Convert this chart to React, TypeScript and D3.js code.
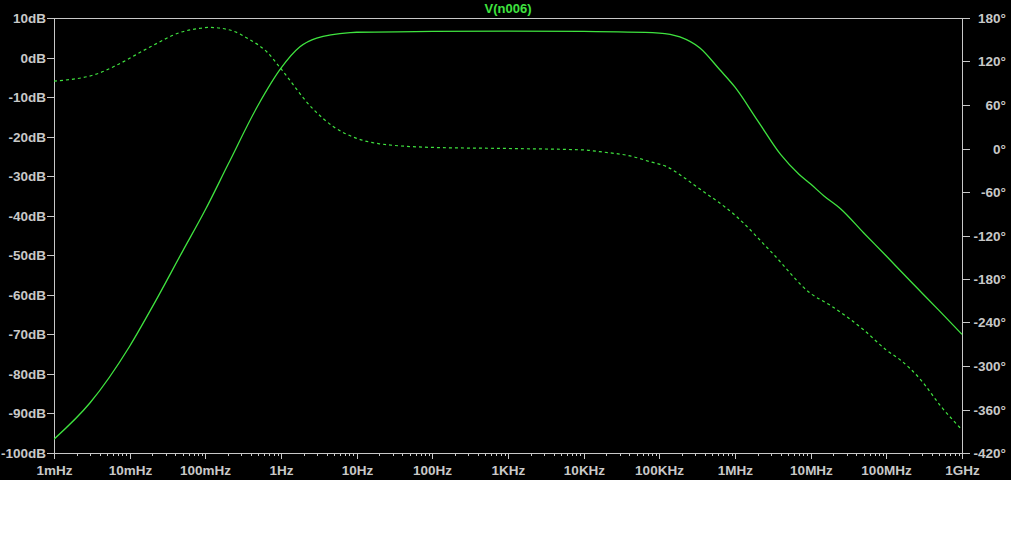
import React, { useEffect, useRef } from 'react';
import * as d3 from 'd3';

// x axis decades and labels
const freqTicks = [1e-3, 1e-2, 1e-1, 1, 10, 100, 1e3, 1e4, 1e5, 1e6, 1e7, 1e8, 1e9];
const freqLabels = ['1mHz', '10mHz', '100mHz', '1Hz', '10Hz', '100Hz', '1KHz', '10KHz', '100KHz', '1MHz', '10MHz', '100MHz', '1GHz'];

// left / right axes
const dbTicks = [10, 0, -10, -20, -30, -40, -50, -60, -70, -80, -90, -100];
const degTicks = [180, 120, 60, 0, -60, -120, -180, -240, -300, -360, -420];

// magnitude trace (solid)
const magFreq = [1e-3, 3e-3, 1e-2, 2e-2, 5e-2, 0.1, 0.2, 0.5, 1, 1.78, 2.96, 8.2, 10, 100, 1e3, 1e4, 1e5, 1.87e5, 3.44e5, 6.3e5, 1e6, 2e6, 4e6, 7e6, 1e7, 1.5e7, 2.5e7, 5e7, 1e8, 2e8, 5e8, 1e9];
const magDb = [-96.5, -87.3, -73, -63, -49, -38.5, -27, -12, -2.7, 2.7, 4.9, 6.3, 6.4, 6.6, 6.7, 6.6, 6.2, 5.2, 2.4, -3.1, -7.5, -16, -24.5, -29.5, -32, -35, -38.3, -44.3, -50.2, -56.2, -64, -70];

// phase trace (dotted)
const phFreq = [1e-3, 3.67e-3, 6.74e-3, 1.86e-2, 4.62e-2, 8.5e-2, 0.115, 0.212, 0.388, 0.647, 0.98, 2.65, 5, 10, 20, 100, 1e3, 1e4, 1.64e4, 4.53e4, 7.5e4, 1.25e5, 2.05e5, 3.11e5, 1e6, 3.1e6, 1e7, 1.8e7, 5e7, 1e8, 1.55e8, 2.85e8, 5.3e8, 1e9];
const phDeg = [93, 102.8, 115, 140, 160, 165.8, 167, 163.4, 150, 133.5, 111, 54.5, 29.7, 14, 6.5, 1.5, 0, -2, -4.4, -11.3, -18.2, -25, -39, -52.7, -92, -144, -200, -216, -250, -278, -292, -319, -356, -388];

const App: React.FC = () => {
    const svgRef = useRef<SVGSVGElement>(null);

    useEffect(() => {
        if (!svgRef.current) return;
        const svg = d3.select(svgRef.current);
        svg.selectAll('*').remove();

        const width = 1011;
        const height = 540;
        const left = 54, right = 962, top = 18, bottom = 453;
        const axisColor = '#c8c8c8';
        const trace = '#3fe33f';
        const font = '"Liberation Sans", Arial, sans-serif';
        const fs = 13.5;

        svg.attr('width', width).attr('height', height);

        svg.append('rect')
            .attr('x', 0).attr('y', 0)
            .attr('width', width).attr('height', 480)
            .attr('fill', '#000');

        const x = d3.scaleLog().domain([1e-3, 1e9]).range([left, right]);
        const yDb = d3.scaleLinear().domain([10, -100]).range([top, bottom]);
        const yDeg = d3.scaleLinear().domain([180, -420]).range([top, bottom]);

        // frame
        svg.append('rect')
            .attr('x', left + 0.5).attr('y', top + 0.5)
            .attr('width', right - left).attr('height', bottom - top)
            .attr('fill', 'none')
            .attr('stroke', axisColor)
            .attr('stroke-width', 1);

        // left ticks + labels
        const gl = svg.append('g');
        dbTicks.forEach(v => {
            const y = Math.round(yDb(v)) + 0.5;
            gl.append('line').attr('x1', left - 7).attr('x2', left).attr('y1', y).attr('y2', y)
                .attr('stroke', axisColor);
            gl.append('text').attr('x', left - 8).attr('y', y)
                .attr('text-anchor', 'end').attr('dominant-baseline', 'central')
                .attr('fill', axisColor).attr('font-family', font).attr('font-size', fs).attr('font-weight', 'bold')
                .text(`${v}dB`);
        });

        // right ticks + labels
        const gr = svg.append('g');
        degTicks.forEach(v => {
            const y = Math.round(yDeg(v)) + 0.5;
            gr.append('line').attr('x1', right).attr('x2', right + 8).attr('y1', y).attr('y2', y)
                .attr('stroke', axisColor);
            gr.append('text').attr('x', 1006).attr('y', y)
                .attr('text-anchor', 'end').attr('dominant-baseline', 'central')
                .attr('fill', axisColor).attr('font-family', font).attr('font-size', fs).attr('font-weight', 'bold')
                .text(`${v}°`);
        });

        // bottom ticks + labels
        const gb = svg.append('g');
        const minor: number[] = [];
        freqTicks.slice(0, -1).forEach(d => {
            for (let k = 2; k <= 9; k++) minor.push(d * k);
        });
        minor.forEach(f => {
            const xx = Math.round(x(f)) + 0.5;
            gb.append('line').attr('x1', xx).attr('x2', xx).attr('y1', bottom).attr('y2', bottom + 3)
                .attr('stroke', axisColor);
        });
        freqTicks.forEach((f, i) => {
            const xx = Math.round(x(f)) + 0.5;
            gb.append('line').attr('x1', xx).attr('x2', xx).attr('y1', bottom).attr('y2', bottom + 6)
                .attr('stroke', axisColor);
            gb.append('text').attr('x', xx).attr('y', 475)
                .attr('text-anchor', 'middle')
                .attr('fill', axisColor).attr('font-family', font).attr('font-size', fs).attr('font-weight', 'bold')
                .text(freqLabels[i]);
        });

        // title
        svg.append('text')
            .attr('x', 508).attr('y', 13)
            .attr('text-anchor', 'middle')
            .attr('fill', trace).attr('font-family', font).attr('font-size', 13).attr('font-weight', 'bold')
            .text('V(n006)');

        // clip to plot area
        svg.append('clipPath').attr('id', 'plot-clip')
            .append('rect').attr('x', left).attr('y', top)
            .attr('width', right - left + 1).attr('height', bottom - top);

        const magLine = d3.line<number>()
            .x((_, i) => x(magFreq[i]))
            .y(d => yDb(d))
            .curve(d3.curveMonotoneX);

        const phLine = d3.line<number>()
            .x((_, i) => x(phFreq[i]))
            .y(d => yDeg(d))
            .curve(d3.curveMonotoneX);

        const plot = svg.append('g').attr('clip-path', 'url(#plot-clip)');

        plot.append('path')
            .attr('d', phLine(phDeg) || '')
            .attr('fill', 'none')
            .attr('stroke', trace)
            .attr('stroke-width', 1.2)
            .attr('stroke-dasharray', '3,3');

        plot.append('path')
            .attr('d', magLine(magDb) || '')
            .attr('fill', 'none')
            .attr('stroke', trace)
            .attr('stroke-width', 1.3);
    }, []);

    return (
        <div style={{ position: 'absolute', left: 0, top: 0 }}>
            <svg ref={svgRef} style={{ display: 'block' }}></svg>
        </div>
    );
};

export default App;
